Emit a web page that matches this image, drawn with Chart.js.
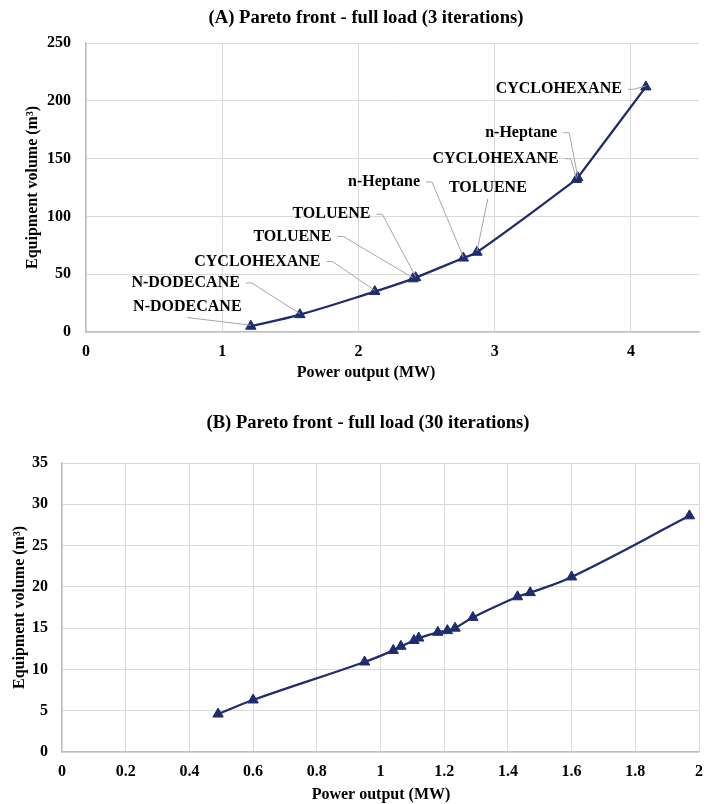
<!DOCTYPE html>
<html><head><meta charset="utf-8">
<script src="https://cdn.jsdelivr.net/npm/chart.js@4"></script>
<style>
html,body{margin:0;padding:0;background:#fff;}
#wrapA{position:absolute;left:0;top:0;width:706px;height:392px;}
#wrapB{position:absolute;left:0;top:392px;width:706px;height:412px;}
</style></head><body>
<div id="wrapA"><canvas id="cA" width="706" height="392"></canvas></div>
<div id="wrapB"><canvas id="cB" width="706" height="412"></canvas></div>
<script>
// ---- data: chart A (3 iterations) ----
const powerA  = [1.21, 1.57, 2.12, 2.40, 2.42, 2.77, 2.87, 3.60, 3.61, 4.11];
const volumeA = [5, 15, 35, 46, 47, 64, 69, 132, 133.5, 212];
const fluidsA = ['N-DODECANE','N-DODECANE','CYCLOHEXANE','TOLUENE','TOLUENE','n-Heptane','TOLUENE','CYCLOHEXANE','n-Heptane','CYCLOHEXANE'];
const xTicksA = [0, 1, 2, 3, 4];
const yTicksA = [0, 50, 100, 150, 200, 250];

// ---- data: chart B (30 iterations) ----
const powerB  = [0.49, 0.60, 0.95, 1.04, 1.064, 1.105, 1.12, 1.18, 1.21, 1.234, 1.29, 1.43, 1.47, 1.60, 1.97];
const volumeB = [4.6, 6.3, 10.9, 12.3, 12.8, 13.5, 13.8, 14.5, 14.7, 15.0, 16.3, 18.8, 19.3, 21.2, 28.6];
const xTicksB = [0, 0.2, 0.4, 0.6, 0.8, 1, 1.2, 1.4, 1.6, 1.8, 2];
const yTicksB = [0, 5, 10, 15, 20, 25, 30, 35];

const titleA = '(A) Pareto front - full load (3 iterations)';
const titleB = '(B) Pareto front - full load (30 iterations)';
const xTitle = 'Power output (MW)';
const yTitle = 'Equipment volume (m\u00B3)';

// ---- layout / style ----
const FONT = "'Liberation Serif','Times New Roman',serif";
const NAVY = '#1f2c6e';
const GRID = '#d9d9d9';
const AXIS = '#bfbfbf';

// label placement (pixel offsets from the labelled point)
const annotA = [
  {dx:-63.5, dy:-19.7, mode:'below'},
  {dx:-60,   dy:-31.7, mode:'side'},
  {dx:-54.3, dy:-30,   mode:'side'},
  {dx:-81.6, dy:-42.3, mode:'side'},
  {dx:-45.3, dy:-63.4, mode:'side'},
  {dx:-43.3, dy:-76,   mode:'side'},
  {dx:10.9,  dy:-64.4, mode:'below'},
  {dx:-17.7, dy:-20.7, mode:'side'},
  {dx:-20.6, dy:-45,   mode:'side'},
  {dx:-24,   dy:2.3,   mode:'side'}
];

const textPlugin = {
  id: 'texts',
  afterDraw(chart, args, opts) {
    const ctx = chart.ctx, ca = chart.chartArea;
    ctx.save();
    ctx.fillStyle = '#000';
    ctx.textBaseline = 'middle';
    ctx.textAlign = 'center';
    ctx.font = 'bold 18.6px ' + FONT;
    ctx.fillText(opts.title, opts.titleX, opts.titleY);
    ctx.font = 'bold 16px ' + FONT;
    ctx.fillText(xTitle, opts.xTitleX, opts.xTitleY);
    ctx.translate(opts.yTitleX, (ca.top + ca.bottom) / 2);
    ctx.rotate(-Math.PI / 2);
    ctx.fillText(yTitle, 0, 0);
    ctx.restore();
  }
};

const leaderPlugin = {
  id: 'leaders',
  afterDatasetsDraw(chart, args, opts) {
    if (!opts.labels) return;
    const ctx = chart.ctx;
    const meta = chart.getDatasetMeta(0);
    ctx.save();
    ctx.font = 'bold 16px ' + FONT;
    ctx.textBaseline = 'middle';
    opts.labels.forEach((a, i) => {
      const el = meta.data[i];
      const px = el.x, py = el.y;
      const tx = px + a.dx, ty = py + a.dy;
      ctx.strokeStyle = '#a6a6a6';
      ctx.lineWidth = 1;
      ctx.beginPath();
      if (a.mode === 'side') {
        ctx.moveTo(tx + 6, ty);
        ctx.lineTo(tx + 12, ty);
        ctx.lineTo(px, py - 1);
      } else {
        ctx.moveTo(tx, ty + 11);
        ctx.lineTo(px, py - 1);
      }
      ctx.stroke();
      ctx.fillStyle = '#000';
      ctx.textAlign = a.mode === 'side' ? 'right' : 'center';
      ctx.fillText(opts.texts[i], tx, ty);
    });
    ctx.restore();
  }
};

function scaleCfg(min, max, ticks, pad, fit) {
  return {
    type: 'linear', min: min, max: max,
    afterBuildTicks: s => { s.ticks = ticks.map(v => ({value: v})); },
    afterFit: s => { fit(s); s.paddingLeft = 0; s.paddingRight = 0; },
    ticks: { color: '#000', padding: pad, font: {family: FONT, size: 16, weight: 'bold'},
             callback: v => String(v) },
    grid: { color: GRID, lineWidth: 1, drawTicks: false },
    border: { color: AXIS, width: 1.3 }
  };
}

function makeChart(id, px, py, xt, yt, xmin, xmax, ymax, layout, texts, extra) {
  const data = px.map((x, i) => ({x: x, y: py[i]}));
  return new Chart(document.getElementById(id), {
    type: 'scatter',
    data: { datasets: [{
      data: data, showLine: true, borderColor: NAVY, borderWidth: 2.3,
      backgroundColor: NAVY, pointBackgroundColor: NAVY, pointBorderColor: NAVY,
      pointStyle: 'triangle', pointRadius: 6, pointBorderWidth: 1,
      tension: 0.4
    }]},
    options: {
      responsive: false, animation: false, devicePixelRatio: 1,
      layout: { padding: layout.padding },
      plugins: {
        legend: {display: false}, title: {display: false}, tooltip: {enabled: false},
        texts: texts,
        leaders: extra
      },
      scales: {
        x: scaleCfg(xmin, xmax, xt, 10, s => { s.height = layout.xh; }),
        y: scaleCfg(0, ymax, yt, layout.ypad, s => { s.width = layout.yw; })
      }
    },
    plugins: [textPlugin, leaderPlugin]
  });
}

makeChart('cA', powerA, volumeA, xTicksA, yTicksA, 0, 4.5, 250,
  {padding: {top: 43, right: 6, left: 0, bottom: 0}, xh: 60, yw: 86, ypad: 15},
  {title: titleA, titleX: 366, titleY: 18, xTitleX: 366, xTitleY: 373, yTitleX: 33},
  {labels: annotA, texts: fluidsA});

makeChart('cB', powerB, volumeB, xTicksB, yTicksB, 0, 2, 35,
  {padding: {top: 71, right: 1, left: 0, bottom: 0}, xh: 52, yw: 62, ypad: 14},
  {title: titleB, titleX: 368, titleY: 31, xTitleX: 381, xTitleY: 403, yTitleX: 20},
  {});
</script>
</body></html>
